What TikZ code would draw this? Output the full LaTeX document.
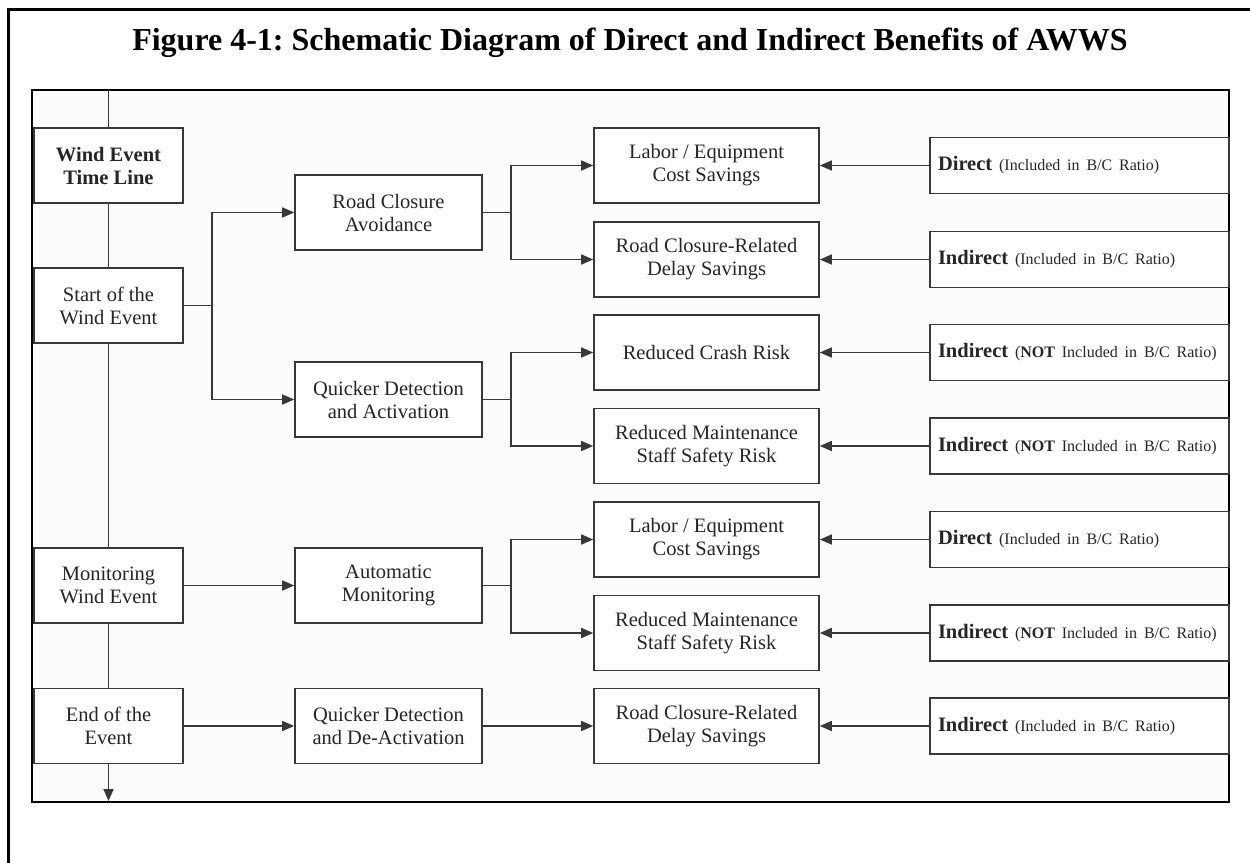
\documentclass[tikz,border=0pt]{standalone}
\usepackage{fontspec}
\setmainfont{Liberation Serif}
\usetikzlibrary{arrows.meta}
\newcommand{\Rtext}[2]{\mbox{{\fontsize{20.5}{23}\selectfont\bfseries #1} {\fontsize{16}{20}\selectfont(#2)}}}
\begin{document}
\frenchspacing
\begin{tikzpicture}[x=1pt,y=-1pt,
  box/.style={draw=black!78, line width=1.6pt, text=black!85, align=center, inner sep=0pt, fill=white,
    font=\fontsize{20.5}{23}\selectfont},
  lbox/.style={box, minimum width=149pt, minimum height=75pt},
  mbox/.style={box, minimum width=187pt, minimum height=75pt},
  cbox/.style={box, minimum width=225pt, minimum height=75pt},
  rbox/.style={box, minimum height=56pt, align=left, text width=283pt, inner xsep=8pt},
  con/.style={draw=black!78, line width=1.6pt},
  arr/.style={con, -{Triangle[length=12pt,width=10pt]}},
  frame/.style={draw=black, line width=2.5pt}]
\useasboundingbox (0,0) rectangle (1250,862);
% outer frame (cropped)
\draw[line width=3pt] (8,866) -- (8,9) -- (1254,9);
% title
\node[font=\fontsize{32}{36}\selectfont\bfseries, anchor=base] (title) at (630,50)
  {Figure 4-1: Schematic Diagram of Direct and Indirect Benefits of AWWS};
% inner frame
\draw[frame, fill=black!1] (32,90) rectangle (1229,802);
\coordinate (tltop) at (108.5,90);
\coordinate (tlend) at (108.5,801);
% left column
\node[lbox, font=\fontsize{20.5}{23}\selectfont\bfseries] (tl) at (108.5,165.5) {Wind Event\\Time Line};
\node[lbox] (start) at (108.5,305.5) {Start of the\\Wind Event};
\node[lbox] (mon) at (108.5,585.5) {Monitoring\\Wind Event};
\node[lbox] (end) at (108.5,726) {End of the\\Event};
% second column
\node[mbox] (rca) at (388.5,212.5) {Road Closure\\Avoidance};
\node[mbox] (qda) at (388.5,399.5) {Quicker Detection\\and Activation};
\node[mbox] (am) at (388.5,585.5) {Automatic\\Monitoring};
\node[mbox] (qdd) at (388.5,726) {Quicker Detection\\and De-Activation};
% third column
\node[cbox] (c1) at (706.5,165.5) {Labor / Equipment\\Cost Savings};
\node[cbox] (c2) at (706.5,259.5) {Road Closure-Related\\Delay Savings};
\node[cbox] (c3) at (706.5,352.5) {Reduced Crash Risk};
\node[cbox] (c4) at (706.5,446) {Reduced Maintenance\\Staff Safety Risk};
\node[cbox] (c5) at (706.5,539.5) {Labor / Equipment\\Cost Savings};
\node[cbox] (c6) at (706.5,633) {Reduced Maintenance\\Staff Safety Risk};
\node[cbox] (c7) at (706.5,726) {Road Closure-Related\\Delay Savings};
% right column
\node[rbox] (r1) at (1079.5,165.5) {\Rtext{Direct}{Included in B/C Ratio}};
\node[rbox] (r2) at (1079.5,259.5) {\Rtext{Indirect}{Included in B/C Ratio}};
\node[rbox] (r3) at (1079.5,352.5) {\Rtext{Indirect}{\textbf{NOT} Included in B/C Ratio}};
\node[rbox] (r4) at (1079.5,446) {\Rtext{Indirect}{\textbf{NOT} Included in B/C Ratio}};
\node[rbox] (r5) at (1079.5,539.5) {\Rtext{Direct}{Included in B/C Ratio}};
\node[rbox] (r6) at (1079.5,633) {\Rtext{Indirect}{\textbf{NOT} Included in B/C Ratio}};
\node[rbox] (r7) at (1079.5,726) {\Rtext{Indirect}{Included in B/C Ratio}};
% time line
\draw[con] (tltop) -- (tl.north);
\draw[con] (tl.south) -- (start.north);
\draw[con] (start.south) -- (mon.north);
\draw[con] (mon.south) -- (end.north);
\draw[arr] (end.south) -- (tlend);
% start branches
\draw[arr] (start.east) -- ++(28,0) |- (rca.west);
\draw[arr] (start.east) -- ++(28,0) |- (qda.west);
\draw[arr] (mon.east) -- (am.west);
\draw[arr] (end.east) -- (qdd.west);
% second to third
\draw[arr] (rca.east) -- ++(28,0) |- (c1.west);
\draw[arr] (rca.east) -- ++(28,0) |- (c2.west);
\draw[arr] (qda.east) -- ++(28,0) |- (c3.west);
\draw[arr] (qda.east) -- ++(28,0) |- (c4.west);
\draw[arr] (am.east) -- ++(28,0) |- (c5.west);
\draw[arr] (am.east) -- ++(28,0) |- (c6.west);
\draw[arr] (qdd.east) -- (c7.west);
% right to third
\foreach \i in {1,...,7} { \draw[arr] (r\i.west) -- (c\i.east); }
\end{tikzpicture}
\end{document}
